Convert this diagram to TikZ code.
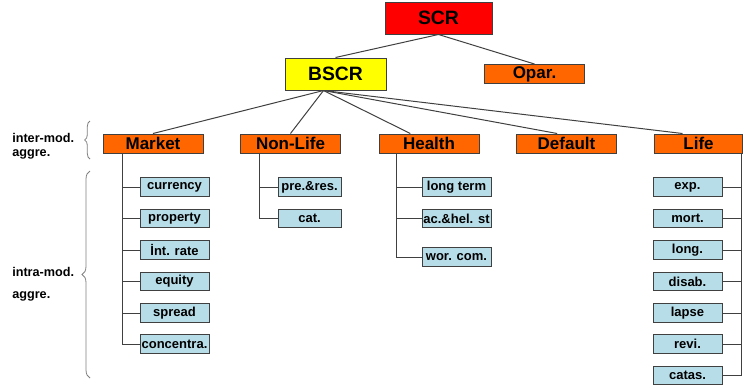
\documentclass[tikz,border=0pt]{standalone}
\usepackage{fontspec}
\setmainfont{Liberation Sans}
\usetikzlibrary{decorations.pathreplacing}

\definecolor{scrred}{RGB}{255,0,0}
\definecolor{bscryellow}{RGB}{255,255,0}
\definecolor{modorange}{RGB}{255,102,0}
\definecolor{subblue}{RGB}{183,221,232}
\definecolor{edgegray}{RGB}{64,64,64}

\tikzset{
    topbox/.style={draw=edgegray, line width=0.75pt, inner sep=0pt,
        font=\fontsize{14.5}{16}\selectfont\bfseries,
        minimum width=75.75pt, minimum height=24pt},
    modbox/.style={draw=edgegray, fill=modorange, line width=0.75pt, inner sep=0pt,
        font=\fontsize{12.75}{14}\selectfont\bfseries,
        minimum width=75pt, minimum height=14.25pt},
    subbox/.style={draw=edgegray, fill=subblue, line width=0.75pt, inner sep=0pt,
        font=\fontsize{9.75}{11}\selectfont\bfseries,
        minimum width=51.75pt, minimum height=13.9pt},
    aggrlabel/.style={anchor=west, inner sep=0pt,
        font=\fontsize{9.5}{11}\selectfont\bfseries},
    link/.style={draw=edgegray, line width=0.75pt},
    aggrbrace/.style={draw=gray, line width=0.6pt, decorate}
}

\begin{document}
\begin{tikzpicture}[x=0.75pt, y=-0.75pt]
    \useasboundingbox (0,0) rectangle (744,387);

    \node[topbox, fill=scrred, minimum width=80.25pt] (scr) at (438.5,18) {SCR};
    \node[topbox, fill=bscryellow] (bscr) at (335.5,74) {BSCR};
    \node[modbox] (opar) at (534.5,74) {Opar.};

    \node[modbox] (market) at (153,143.5) {Market};
    \node[modbox] (nonlife) at (290.5,143.5) {Non-Life};
    \node[modbox] (health) at (429,143.5) {Health};
    \node[modbox] (default) at (566.5,143.5) {Default};
    \node[modbox, minimum width=66pt] (life) at (698.5,143.5) {Life};

    \draw[link] (scr.south) -- (bscr.north);
    \draw[link] (scr.south) -- (opar.north);
    \draw[link] ([xshift=-9pt]bscr.south) -- (market.north);
    \draw[link] ([xshift=-9pt]bscr.south) -- (nonlife.north);
    \draw[link] ([xshift=-9pt]bscr.south) -- ([xshift=-14pt]health.north);
    \draw[link] ([xshift=-9pt]bscr.south) -- ([xshift=-7pt]default.north);
    \draw[link] ([xshift=-9pt]bscr.south) -- ([xshift=-12pt]life.north);

    \node[subbox] (currency) at (174.5,187) {currency};
    \node[subbox] (property) at (174.5,218.5) {property};
    \node[subbox] (intrate) at (174.5,250) {İnt. rate};
    \node[subbox] (equity) at (174.5,281.5) {equity};
    \node[subbox] (spread) at (174.5,313) {spread};
    \node[subbox] (concentra) at (174.5,344) {concentra.};

    \node[subbox, minimum width=47.25pt] (preres) at (309.5,187) {pre.\&res.};
    \node[subbox, minimum width=47.25pt] (cat) at (309.5,218.5) {cat.};

    \node[subbox] (longterm) at (456.5,187) {long term};
    \node[subbox] (achel) at (456.5,218.5) {ac.\&hel. st};
    \node[subbox] (worcom) at (456.5,257) {wor. com.};

    \node[subbox] (exp) at (687.5,187) {exp.};
    \node[subbox] (mort) at (687.5,218.5) {mort.};
    \node[subbox] (long) at (687.5,250) {long.};
    \node[subbox] (disab) at (687.5,281.5) {disab.};
    \node[subbox] (lapse) at (687.5,313) {lapse};
    \node[subbox] (revi) at (687.5,344) {revi.};
    \node[subbox] (catas) at (687.5,375.5) {catas.};

    \draw[link] ([xshift=15pt]market.south west) |- (currency.west)
        ([xshift=15pt]market.south west) |- (property.west)
        ([xshift=15pt]market.south west) |- (intrate.west)
        ([xshift=15pt]market.south west) |- (equity.west)
        ([xshift=15pt]market.south west) |- (spread.west)
        ([xshift=15pt]market.south west) |- (concentra.west);
    \draw[link] ([xshift=14.25pt]nonlife.south west) |- (preres.west)
        ([xshift=14.25pt]nonlife.south west) |- (cat.west);
    \draw[link] ([xshift=13.5pt]health.south west) |- (longterm.west)
        ([xshift=13.5pt]health.south west) |- (achel.west)
        ([xshift=13.5pt]health.south west) |- (worcom.west);
    \draw[link] ([xshift=-1.1pt]life.south east) |- (exp.east)
        ([xshift=-1.1pt]life.south east) |- (mort.east)
        ([xshift=-1.1pt]life.south east) |- (long.east)
        ([xshift=-1.1pt]life.south east) |- (disab.east)
        ([xshift=-1.1pt]life.south east) |- (lapse.east)
        ([xshift=-1.1pt]life.south east) |- (revi.east)
        ([xshift=-1.1pt]life.south east) |- (catas.east);

    \node[aggrlabel] (intermod) at (12,138) {inter-mod.};
    \node[aggrlabel] (interaggr) at (12,154) {aggre.};
    \node[aggrlabel] (intramod) at (12,272) {intra-mod.};
    \node[aggrlabel] (intraaggr) at (12,296) {aggre.};

    \draw[aggrbrace, decoration={brace, amplitude=4pt}] (90,159) -- (90,121);
    \draw[aggrbrace, decoration={brace, amplitude=6pt}] (90,378) -- (90,171);
\end{tikzpicture}
\end{document}
